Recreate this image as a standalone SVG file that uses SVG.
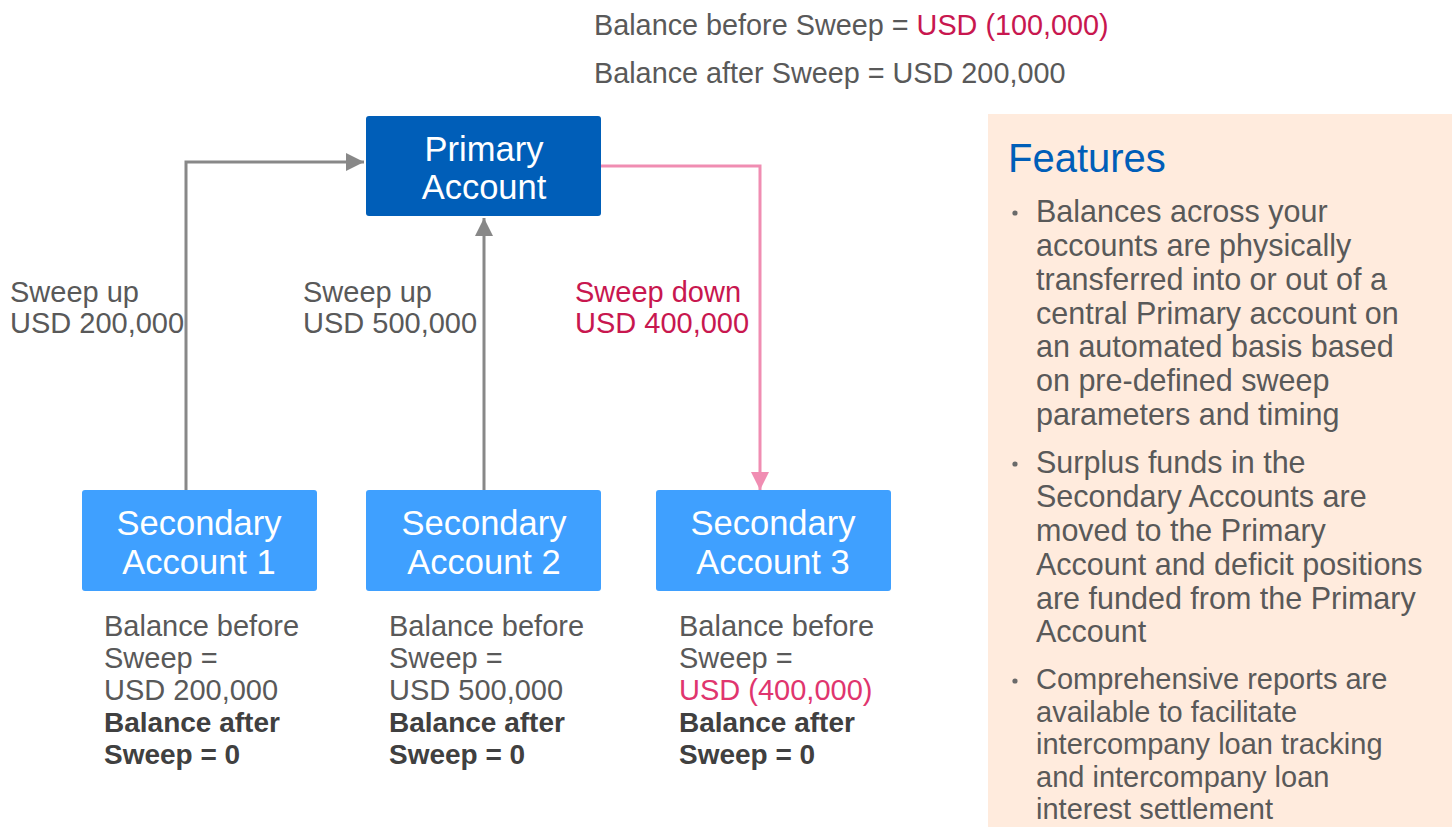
<svg xmlns="http://www.w3.org/2000/svg" width="1456" height="827" viewBox="0 0 1456 827">
<defs>
<style>
text{font-family:"Liberation Sans",Arial,sans-serif}
.t{fill:#595959;font-size:29px}
.top{fill:#595959;font-size:28.8px}
.b{fill:#404040;font-size:28px;font-weight:bold}
.red{fill:#C8174F}
.pink{fill:#E0356E}
.node{font-size:34.5px;fill:#fff;text-anchor:middle}
.feat{fill:#595959;font-size:30.5px}
.feat3{fill:#595959;font-size:29px}
.g{stroke:#888;stroke-width:3;fill:none}
.p{stroke:#F08DB2;stroke-width:3;fill:none}
</style>
<marker id="ag" viewBox="0 0 10 10" refX="10" refY="5" markerWidth="6" markerHeight="6" markerUnits="strokeWidth" orient="auto"><path d="M0,0 L10,5 L0,10 z" fill="#888"/></marker>
<marker id="ap" viewBox="0 0 10 10" refX="10" refY="5" markerWidth="6" markerHeight="6" markerUnits="strokeWidth" orient="auto"><path d="M0,0 L10,5 L0,10 z" fill="#F08DB2"/></marker>
</defs>
<rect width="1456" height="827" fill="#fff"/>
<g id="top-balance">
<text class="top" x="594" y="35">Balance before Sweep = <tspan class="red">USD (100,000)</tspan></text>
<text class="top" x="594" y="83">Balance after Sweep = USD 200,000</text>
</g>
<g id="connectors">
<polyline class="g" points="186,490 186,162 364,162" marker-end="url(#ag)"/>
<polyline class="g" points="484,490 484,218" marker-end="url(#ag)"/>
<polyline class="p" points="601,166 760,166 760,490" marker-end="url(#ap)"/>
<text class="t" x="10" y="302">Sweep up</text>
<text class="t" x="10" y="333">USD 200,000</text>
<text class="t" x="303" y="302">Sweep up</text>
<text class="t" x="303" y="333">USD 500,000</text>
<text class="t red" x="575" y="302">Sweep down</text>
<text class="t red" x="575" y="333">USD 400,000</text>
</g>
<g id="primary">
<rect x="366" y="116" width="235" height="100" rx="3" fill="#005EB8"/>
<text class="node" x="484" y="161">Primary</text>
<text class="node" x="484" y="199">Account</text>
</g>
<g id="secondary1">
<rect x="82" y="490" width="235" height="101" rx="3" fill="#3FA0FF"/>
<text class="node" x="199" y="535">Secondary</text>
<text class="node" x="199" y="574">Account 1</text>
<text class="t" x="104" y="636">Balance before</text>
<text class="t" x="104" y="668">Sweep =</text>
<text class="t" x="104" y="700">USD 200,000</text>
<text class="b" x="104" y="732">Balance after</text>
<text class="b" x="104" y="764">Sweep = 0</text>
</g>
<g id="secondary2">
<rect x="366" y="490" width="235" height="101" rx="3" fill="#3FA0FF"/>
<text class="node" x="484" y="535">Secondary</text>
<text class="node" x="484" y="574">Account 2</text>
<text class="t" x="389" y="636">Balance before</text>
<text class="t" x="389" y="668">Sweep =</text>
<text class="t" x="389" y="700">USD 500,000</text>
<text class="b" x="389" y="732">Balance after</text>
<text class="b" x="389" y="764">Sweep = 0</text>
</g>
<g id="secondary3">
<rect x="656" y="490" width="235" height="101" rx="3" fill="#3FA0FF"/>
<text class="node" x="773" y="535">Secondary</text>
<text class="node" x="773" y="574">Account 3</text>
<text class="t" x="679" y="636">Balance before</text>
<text class="t" x="679" y="668">Sweep =</text>
<text class="t pink" x="679" y="700">USD (400,000)</text>
<text class="b" x="679" y="732">Balance after</text>
<text class="b" x="679" y="764">Sweep = 0</text>
</g>
<g id="features">
<rect x="988" y="114" width="464" height="713" fill="#FFEBDD"/>
<text x="1008" y="172" font-size="40" fill="#005EB8">Features</text>
<g fill="#6a6a6a"><circle cx="1015" cy="213" r="2.6"/><circle cx="1015" cy="464" r="2.6"/><circle cx="1015" cy="681" r="2.6"/></g>
<text class="feat" x="1036" y="222">Balances across your</text>
<text class="feat" x="1036" y="256">accounts are physically</text>
<text class="feat" x="1036" y="290">transferred into or out of a</text>
<text class="feat" x="1036" y="324">central Primary account on</text>
<text class="feat" x="1036" y="357">an automated basis based</text>
<text class="feat" x="1036" y="391">on pre-defined sweep</text>
<text class="feat" x="1036" y="425">parameters and timing</text>
<text class="feat" x="1036" y="473">Surplus funds in the</text>
<text class="feat" x="1036" y="507">Secondary Accounts are</text>
<text class="feat" x="1036" y="541">moved to the Primary</text>
<text class="feat" x="1036" y="575">Account and deficit positions</text>
<text class="feat" x="1036" y="609">are funded from the Primary</text>
<text class="feat" x="1036" y="642">Account</text>
<text class="feat3" x="1036" y="689">Comprehensive reports are</text>
<text class="feat3" x="1036" y="722">available to facilitate</text>
<text class="feat3" x="1036" y="754">intercompany loan tracking</text>
<text class="feat3" x="1036" y="787">and intercompany loan</text>
<text class="feat3" x="1036" y="819">interest settlement</text>
</g>
</svg>
